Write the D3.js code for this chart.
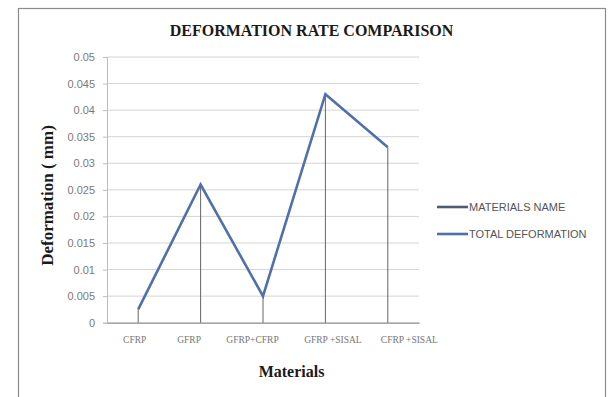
<!DOCTYPE html>
<html><head><meta charset="utf-8">
<script src="https://cdn.jsdelivr.net/npm/d3@7"></script>
<style>body{margin:0;background:#fff;}svg{display:block;}</style>
</head><body>
<svg id="c" width="611" height="397"></svg>
<script>
const categories = ["CFRP", "GFRP", "GFRP+CFRP", "GFRP +SISAL", "CFRP +SISAL"];
const deformation = [0.0025, 0.026, 0.005, 0.043, 0.033];
const yTicks = [0, 0.005, 0.01, 0.015, 0.02, 0.025, 0.03, 0.035, 0.04, 0.045, 0.05];
const legendItems = ["MATERIALS NAME", "TOTAL DEFORMATION"];
const legendColors = ["#4d5a74", "#4f70aa"];
// layout: horizontal nudge of category labels as placed in the original
const labelNudge = [-4, -12, -11, 7, 21];

const svg = d3.select("#c");
svg.append("rect").attr("x", 18.5).attr("y", 8.5).attr("width", 587).attr("height", 400)
  .attr("fill", "#fff").attr("stroke", "#8c8c8c").attr("stroke-width", 1.2);

const L = 107, R = 419, T = 57, B = 322.7;
const x = d3.scalePoint().domain(categories).range([L, R]).padding(0.5);
const y = d3.scaleLinear().domain([0, 0.05]).range([B, T]);

// gridlines
svg.append("g").selectAll("line").data(yTicks.slice(1)).join("line")
  .attr("x1", L).attr("x2", R).attr("y1", d => y(d)).attr("y2", d => y(d))
  .attr("stroke", "#d4d4d4").attr("stroke-width", 1);

// y axis
const ya = svg.append("g").attr("transform", `translate(${L},0)`)
  .call(d3.axisLeft(y).tickValues(yTicks).tickFormat(d => d === 0 ? "0" : String(+d.toFixed(3))).tickSize(4).tickPadding(8));
ya.select(".domain").attr("stroke", "#bdbdbd");
ya.selectAll(".tick line").attr("stroke", "#bdbdbd");
ya.selectAll("text").attr("fill", "#7a7a7a").attr("font-family", "Liberation Sans Narrow, Liberation Sans, sans-serif").attr("font-size", 11);

// x axis
const xa = svg.append("g").attr("transform", `translate(0,${B})`)
  .call(d3.axisBottom(x).tickSize(0).tickPadding(14));
xa.select(".domain").attr("stroke", "#8a8a8a").attr("stroke-width", 1.2);
xa.selectAll("text").attr("fill", "#777").attr("font-family", "Liberation Serif, serif").attr("font-size", 9.5)
  .attr("dx", (d, i) => labelNudge[i]);

// drop lines
svg.append("g").selectAll("line").data(deformation).join("line")
  .attr("x1", (d, i) => x(categories[i])).attr("x2", (d, i) => x(categories[i]))
  .attr("y1", d => y(d)).attr("y2", B)
  .attr("stroke", "#555").attr("stroke-width", 0.9);

// series line
const line = d3.line().x((d, i) => x(categories[i])).y(d => y(d));
svg.append("path").datum(deformation).attr("d", line)
  .attr("fill", "none").attr("stroke", legendColors[1]).attr("stroke-width", 2.6).attr("stroke-linejoin", "miter");

// title
svg.append("text").attr("x", 311.5).attr("y", 36).attr("text-anchor", "middle")
  .attr("font-family", "Liberation Serif, serif").attr("font-weight", "bold").attr("font-size", 16)
  .attr("fill", "#1a1a1a").text("DEFORMATION RATE COMPARISON");

// axis titles
svg.append("text").attr("x", 291.5).attr("y", 377).attr("text-anchor", "middle")
  .attr("font-family", "Liberation Serif, serif").attr("font-weight", "bold").attr("font-size", 16)
  .attr("fill", "#1a1a1a").text("Materials");
svg.append("text").attr("transform", "translate(53,195.5) rotate(-90)").attr("text-anchor", "middle")
  .attr("font-family", "Liberation Serif, serif").attr("font-weight", "bold").attr("font-size", 17)
  .attr("fill", "#1a1a1a").text("Deformation ( mm)");

// legend
const lg = svg.append("g").selectAll("g").data(legendItems).join("g")
  .attr("transform", (d, i) => `translate(437,${207 + i * 27})`);
lg.append("line").attr("x1", 0).attr("x2", 31).attr("y1", 0).attr("y2", 0)
  .attr("stroke", (d, i) => legendColors[i]).attr("stroke-width", 2.6);
lg.append("text").attr("x", 32).attr("y", 4).text(d => d)
  .attr("font-family", "Liberation Sans Narrow, Liberation Sans, sans-serif").attr("font-size", 11).attr("fill", "#555");
</script>
</body></html>
